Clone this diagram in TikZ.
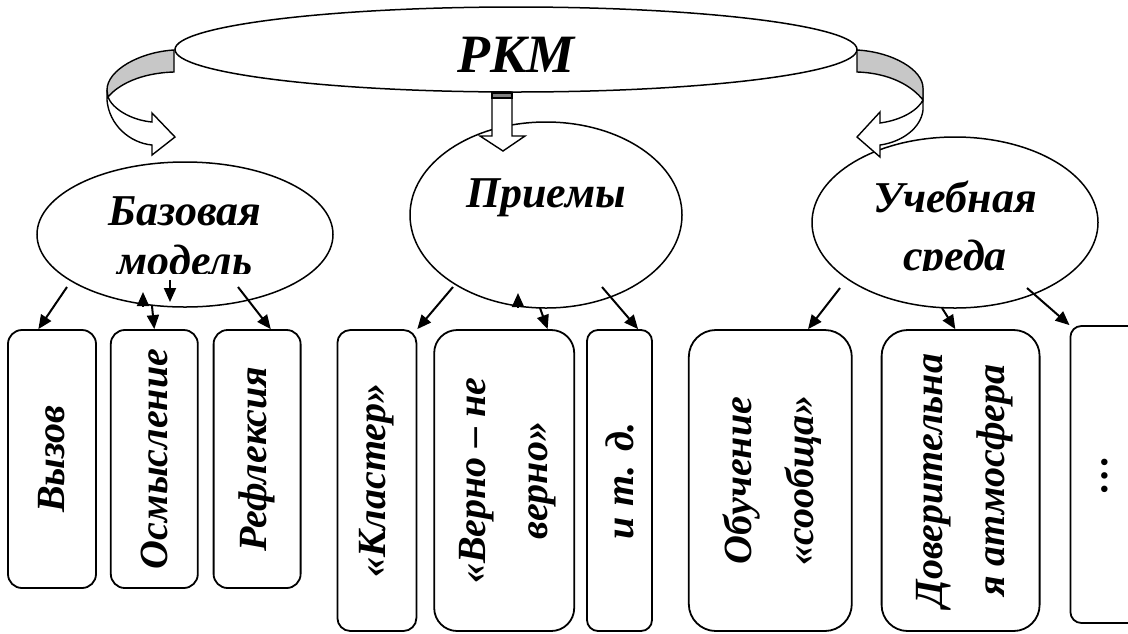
\documentclass[tikz,border=0pt]{standalone}
\usepackage{fontspec}
\setmainfont{Liberation Serif}
\usepackage{tikz}
\usetikzlibrary{arrows.meta,positioning,shapes.geometric}

\begin{document}
\begin{tikzpicture}[
  x=0.5pt, y=-0.5pt,
  font=\fontsize{20}{25}\selectfont\bfseries\itshape, >={Triangle[length=7pt,width=6pt]},
  oval/.style={ellipse, draw=black, line width=0.75pt, inner sep=0pt},
  big/.style={font=\fontsize{22}{25}\selectfont\bfseries\itshape},
  cell/.style={draw=black, line width=0.9pt, inner sep=0pt, align=center},
  two/.style={font=\fontsize{20}{31}\selectfont\bfseries\itshape},
  band/.style={draw=black, line width=0.7pt, line join=miter},
  a/.style={->, line width=1pt, draw=black},
]
\useasboundingbox (0,0) rectangle (1128,633);

% top level and the three branches
\node[oval, minimum width=341pt, minimum height=42.5pt, text height=22.5pt, text depth=0pt,
      font=\fontsize{27}{30}\selectfont\bfseries\itshape] (rkm) at (516,49.5) {РКМ};
\node[oval, big, minimum width=148pt, minimum height=72.5pt, text height=8pt, text depth=17.5pt]
  (bm) at (185,234.5) {\begin{tabular}[t]{@{}c@{}}Базовая\\модель\end{tabular}};
\node[oval, big, minimum width=136pt, minimum height=93pt, text height=8pt, text depth=16pt]
  (pr) at (546,215) {Приемы};
\node[oval, minimum width=143pt, minimum height=85.5pt, text height=8pt, text depth=18.5pt,
      font=\fontsize{22}{29}\selectfont\bfseries\itshape]
  (us) at (955,222.5) {\begin{tabular}[t]{@{}c@{}}Учебная\\среда\end{tabular}};

% text boxes cut off at the bottom
\fill[white] (115,274) rectangle (255,293);
\fill[white] (875,271) rectangle (1035,289);

% bent arrows from the top oval
\path[band, fill=white] (107,90) -- (107,100) .. controls (109,125) and (130,143) .. (152,145)
  -- (152,155) -- (175,137) -- (152,113) -- (152,122) .. controls (130,120) and (112,108) .. (108,97) -- cycle;
\path[band, fill=black!22] (174,50) .. controls (140,52) and (107,70) .. (107,90)
  -- (108,97) .. controls (118,85) and (140,73) .. (174,72) -- cycle;
\path[band, fill=white] (923,88) -- (923,110) .. controls (921,128) and (902,142) .. (880,145)
  -- (880,157) -- (857,137) -- (880,112) -- (880,123) .. controls (902,120) and (918,110) .. (923,100) -- cycle;
\path[band, fill=black!22] (857,50) .. controls (893,52) and (923,70) .. (923,88)
  -- (923,100) .. controls (912,86) and (890,73) .. (857,72) -- cycle;
\path[band, fill=white] (492,92) -- (512,92) -- (512,136) -- (525,136) -- (503,151)
  -- (480,136) -- (492,136) -- cycle;
\path[band, fill=black!50] (492,93) rectangle (512,98);

% bottom row
\node[cell, minimum width=44pt, minimum height=129pt, rounded corners=7pt] (b1) at (52,459)
  {\rotatebox{90}{Вызов}};
\node[cell, minimum width=43.5pt, minimum height=129pt, rounded corners=7pt, right=6.5pt of b1] (b2)
  {\rotatebox{90}{Осмысление}};
\node[cell, minimum width=43.5pt, minimum height=129pt, rounded corners=7pt, right=7pt of b2] (b3)
  {\rotatebox{90}{Рефлексия}};
\node[cell, minimum width=39.5pt, minimum height=150.5pt, rounded corners=6.5pt,
      right=17.5pt of b3.north east, anchor=north west] (b4) {\rotatebox{90}{«Кластер»}};
\node[cell, two, minimum width=70pt, minimum height=150.5pt, rounded corners=11.5pt,
      right=8pt of b4] (b5)
  {\rotatebox{90}{\begin{tabular}{@{}c@{}}«Верно – не\\верно»\end{tabular}}};
\node[cell, minimum width=32.5pt, minimum height=150.5pt, rounded corners=5.5pt, right=5.5pt of b5] (b6)
  {\rotatebox{90}{и т. д.}};
\node[cell, two, minimum width=81.5pt, minimum height=150.5pt, rounded corners=13.5pt,
      right=17.5pt of b6] (b7)
  {\rotatebox{90}{\begin{tabular}{@{}c@{}}Обучение\\«сообща»\end{tabular}}};
\node[cell, two, minimum width=79pt, minimum height=150.5pt, rounded corners=13pt,
      right=14pt of b7] (b8)
  {\rotatebox{90}{\begin{tabular}{@{}c@{}}Доверительна\\я атмосфера\end{tabular}}};
\node[cell, minimum width=34.5pt, minimum height=148.5pt, rounded corners=5.5pt,
      right=14.5pt of b8.north east, anchor=north west, yshift=2pt] (b9) {\rotatebox{90}{…}};

% arrow starts
\coordinate (la) at (67,287);   \coordinate (lup) at (143,292); \coordinate (lb) at (152,306);
\coordinate (lc) at (170,280);  \coordinate (lcend) at (170,302); \coordinate (ld) at (238,287);
\coordinate (ma) at (453,287);  \coordinate (mup) at (518,293); \coordinate (mb) at (540,308);
\coordinate (mc) at (602,287);
\coordinate (ra) at (840,288);  \coordinate (rb) at (942,308);  \coordinate (rc) at (1027,288);

\draw[a] (la) -- (b1.96);
\draw[<-, line width=1pt] (lup) -- ++(0,14);
\draw[a] (lb) -- (b2.north);
\draw[a] (lc) -- (lcend);
\draw[a] (ld) -- (b3.84);

\draw[a] (ma) -- (b4.north east);
\draw[<-, line width=1pt] (mup) -- ++(0,14);
\draw[a] (mb) -- (b5.74);
\draw[a] (mc) -- (b6.83);

\draw[a] (ra) -- (b7.76);
\draw[a] (rb) -- (b8.92);
\draw[a] (rc) -- (b9.north west);
\end{tikzpicture}
\end{document}
